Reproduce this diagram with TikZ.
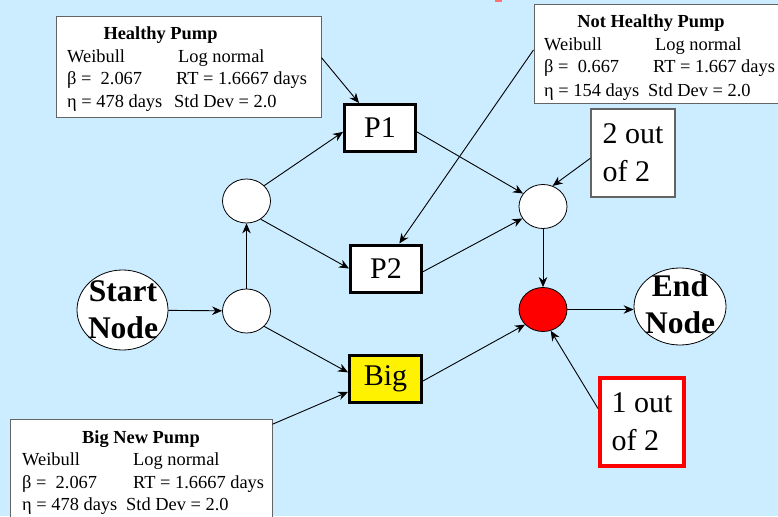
\documentclass[tikz,border=0pt]{standalone}
\usepackage{fontspec}
\setmainfont{Liberation Serif}
\usetikzlibrary{arrows.meta,shapes.geometric}
\definecolor{bg}{RGB}{204,236,255}
\definecolor{boxgray}{RGB}{100,100,100}
\begin{document}
\begin{tikzpicture}[x=1pt,y=-1pt,
  conn/.style={line width=0.9pt,-{Stealth[length=10pt,width=8.5pt]}},
  databox/.style={draw=boxgray,line width=1pt,fill=white,inner sep=0pt},
  dtxt/.style={font=\fontsize{18.4}{22}\selectfont,inner sep=0pt,anchor=base west},
  dtitle/.style={font=\fontsize{18.4}{22}\selectfont\bfseries,inner sep=0pt,anchor=base},
  place/.style={ellipse,draw,line width=0.8pt,fill=white,minimum width=48pt,minimum height=44pt,inner sep=0pt},
  pumpbox/.style={rectangle,draw,line width=3pt,fill=white,minimum width=71pt,minimum height=47pt,inner sep=0pt,font=\fontsize{30}{36}\selectfont},
  endpt/.style={ellipse,draw,line width=0.8pt,fill=white,inner sep=0pt},
  endtxt/.style={align=center,inner sep=0pt,font=\fontsize{31.5}{37}\selectfont\bfseries},
  votebox/.style={rectangle,align=left,inner sep=0pt,fill=white,minimum width=84pt,minimum height=88pt,font=\fontsize{30}{38}\selectfont}
]
\useasboundingbox (0,0) rectangle (778,516);
\fill[bg] (0,0) rectangle (778,516);
\fill[red!55] (495,0) rectangle (502,2);

% places
\node[endpt,minimum width=91pt,minimum height=80pt] (start) at (122.5,310) {};
\node[endtxt] (starttxt) at (123,310) {Start\\Node};
\node[endpt,minimum width=92pt,minimum height=77pt] (endn) at (680,306.5) {};
\node[endtxt] (endtxt) at (680,304) {End\\Node};
\node[place] (lb) at (246.5,311) {};
\node[place] (lt) at (246.5,201) {};
\node[place] (rt) at (543,206.5) {};
\node[place,fill=red] (red) at (543,309.5) {};

% transitions
\node[pumpbox] (p1) at (380,128) {P1};
\node[pumpbox] (p2) at (386,268.5) {P2};
\node[pumpbox,fill=yellow,minimum width=72pt] (big) at (385.5,379) {Big};

% vote boxes
\node[votebox,draw=boxgray,line width=1.2pt] (two) at (633,153) {2 out\\of 2};
\node[votebox,draw=red,line width=4pt] (one) at (642,422) {1 out\\of 2};

% data boxes
\node[databox,minimum width=265pt,minimum height=100pt] (hp) at (188.5,67) {};
\node[dtitle] (hpt) at (160.5,40) {Healthy Pump};
\node[dtxt] (hpa) at (67,63) {Weibull};
\node[dtxt] (hpb) at (178,63) {Log normal};
\node[dtxt] (hpc) at (67,85) {β = \ 2.067};
\node[dtxt] (hpd) at (176,85) {RT = 1.6667 days};
\node[dtxt] (hpe) at (67,108) {η = 478 days};
\node[dtxt] (hpf) at (174,108) {Std Dev = 2.0};

\node[databox,minimum width=260pt,minimum height=99pt] (nh) at (664,54.5) {};
\node[dtitle] (nht) at (651,28) {Not Healthy Pump};
\node[dtxt] (nha) at (544,51) {Weibull};
\node[dtxt] (nhb) at (655,51) {Log normal};
\node[dtxt] (nhc) at (544,73) {β = \ 0.667};
\node[dtxt] (nhd) at (653,73) {RT = 1.667 days};
\node[dtxt] (nhe) at (544,96) {η = 154 days};
\node[dtxt] (nhf) at (648,96) {Std Dev = 2.0};

\node[databox,minimum width=262pt,minimum height=101pt] (bn) at (141,469.5) {};
\node[dtitle] (bnt) at (141,443) {Big New Pump};
\node[dtxt] (bna) at (22,465) {Weibull};
\node[dtxt] (bnb) at (133,465) {Log normal};
\node[dtxt] (bnc) at (22,488) {β = \ 2.067};
\node[dtxt] (bnd) at (133,488) {RT = 1.6667 days};
\node[dtxt] (bne) at (22,510) {η = 478 days};
\node[dtxt] (bnf) at (126,510) {Std Dev = 2.0};

% connectors
\draw[conn] (start) -- (lb);
\draw[conn] (lb) -- (lt);
\draw[conn] (lt.41) -- (p1.186);
\draw[conn] (lt.-52) -- (p2.west);
\draw[conn] (lb.-41) -- (big.170);
\draw[conn] (p1.-6) -- (rt.147);
\draw[conn] (p2.-5) -- (rt.210);
\draw[conn] (rt) -- (red);
\draw[conn] (big.-3) -- (red.220);
\draw[conn] (red.east) -- (red.east -| endn.west);
\draw[conn] (hp.4) -- (p1.130);
\draw[conn] (nh.178) -- (p2.62);
\draw[conn] (two.187) -- (rt.65);
\draw[conn] (one.163) -- (red.-70);
\draw[conn] (bn.19) -- (big.199);
\end{tikzpicture}
\end{document}
